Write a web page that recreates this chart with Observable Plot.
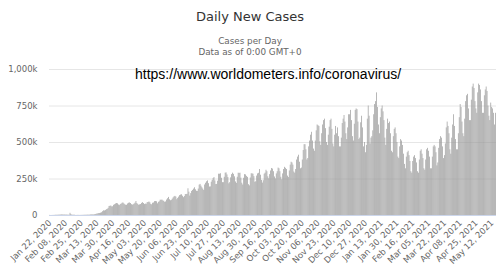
<!DOCTYPE html>
<html><head><meta charset="utf-8">
<script src="https://cdn.jsdelivr.net/npm/d3@7"></script>
<script src="https://cdn.jsdelivr.net/npm/@observablehq/plot@0.6"></script>
<style>
body{margin:0;background:#fff;}
#wrap{position:relative;width:500px;height:278px;font-family:"DejaVu Sans",sans-serif;overflow:hidden;}
#title{position:absolute;top:9px;left:0;width:500px;text-align:center;font-size:13px;line-height:16px;color:#333;}
#sub{position:absolute;top:36px;left:0;width:500px;text-align:center;font-size:8.8px;line-height:10.5px;color:#666;}
#chart{position:absolute;top:60px;left:0;}
#url{position:absolute;top:66px;left:135px;font-family:"Liberation Sans",Arial,sans-serif;font-size:14px;line-height:16px;color:#000;white-space:nowrap;}
</style></head>
<body>
<div id="wrap">
  <div id="title">Daily New Cases</div>
  <div id="sub">Cases per Day<br>Data as of 0:00 GMT+0</div>
  <div id="chart"></div>
  <div id="url">https://www.worldometers.info/coronavirus/</div>
</div>
<script>
const startDate = "2020-01-22";
// daily new cases, in thousands, one row per week (Wed..Tue)
const dailyCasesK = [
  0.6, 0.1, 0.3, 0.5, 0.7, 0.8, 1.8,
  1.5, 2.0, 2.1, 2.6, 2.8, 3.2, 3.9,
  3.7, 3.2, 3.4, 2.7, 3.0, 2.5, 2.0,
  2.0, 15.1, 6.4, 2.1, 2.1, 2.0, 1.9,
  0.5, 0.6, 1.0, 0.9, 0.6, 0.7, 0.9,
  1.0, 1.3, 1.3, 1.9, 1.7, 2.0, 2.5,
  2.4, 2.7, 3.9, 4.0, 3.9, 3.7, 4.8,
  7.0, 7.6, 10.7, 11.0, 13.5, 14.0, 16.0,
  19, 26, 32, 31, 34, 40, 42,
  49, 62, 63, 65, 59, 60, 70,
  74, 79, 82, 80, 72, 68, 75,
  78, 84, 86, 80, 74, 70, 70,
  79, 84, 86, 82, 74, 71, 74,
  79, 85, 96, 82, 76, 70, 73,
  75, 83, 88, 82, 75, 78, 77,
  88, 89, 93, 87, 76, 73, 84,
  86, 95, 96, 94, 80, 90, 94,
  105, 104, 106, 100, 97, 90, 93,
  106, 115, 124, 108, 101, 104, 112,
  121, 128, 131, 126, 108, 117, 126,
  136, 140, 142, 132, 122, 130, 143,
  144, 145, 183, 160, 133, 150, 165,
  172, 181, 190, 176, 166, 165, 181,
  208, 213, 201, 190, 181, 172, 209,
  221, 231, 237, 218, 195, 196, 228,
  240, 253, 260, 237, 212, 213, 235,
  283, 283, 286, 255, 225, 225, 262,
  290, 292, 278, 260, 217, 225, 258,
  280, 290, 282, 265, 230, 220, 262,
  290, 288, 290, 256, 221, 209, 255,
  280, 278, 268, 261, 211, 203, 257,
  286, 285, 283, 266, 228, 231, 270,
  285, 289, 315, 276, 240, 222, 238,
  283, 290, 310, 300, 265, 252, 280,
  305, 322, 318, 300, 264, 251, 285,
  300, 325, 320, 300, 262, 245, 285,
  315, 330, 323, 315, 270, 260, 305,
  345, 365, 360, 345, 298, 290, 315,
  380, 400, 413, 365, 320, 325, 380,
  445, 485, 485, 450, 380, 390, 470,
  510, 550, 570, 510, 455, 440, 510,
  580, 620, 615, 610, 505, 480, 560,
  620, 650, 660, 595, 500, 480, 550,
  605, 650, 660, 590, 490, 470, 550,
  610, 560, 600, 540, 470, 470, 530,
  630, 660, 685, 640, 560, 520, 600,
  690, 690, 720, 650, 540, 510, 625,
  720, 730, 725, 640, 520, 530, 635,
  680, 600, 470, 500, 430, 480, 660,
  750, 680, 490, 530, 540, 580, 690,
  760, 780, 840, 740, 620, 560, 670,
  730, 750, 710, 650, 530, 480, 590,
  660, 630, 640, 560, 440, 430, 540,
  590, 600, 560, 500, 400, 390, 470,
  520, 510, 480, 420, 350, 320, 400,
  430, 440, 410, 370, 300, 290, 370,
  400, 410, 390, 360, 300, 290, 380,
  440, 450, 420, 390, 320, 310, 380,
  450, 460, 440, 400, 320, 320, 400,
  470, 480, 470, 430, 340, 360, 460,
  520, 540, 530, 470, 390, 410, 490,
  600, 640, 610, 560, 450, 420, 530,
  620, 690, 610, 520, 450, 450, 560,
  670, 760, 740, 640, 560, 540, 660,
  780, 820, 830, 730, 650, 650, 790,
  880, 900, 870, 780, 730, 700, 840,
  900, 890, 860, 780, 700, 700, 820,
  860, 880, 850, 750, 680, 650, 770,
  740, 730, 700, 620, 700
];
const xTickDates = [
  "2020-01-22","2020-02-08","2020-02-25","2020-03-13","2020-03-30","2020-04-16",
  "2020-05-03","2020-05-20","2020-06-06","2020-06-23","2020-07-10","2020-07-27",
  "2020-08-13","2020-08-30","2020-09-16","2020-10-03","2020-10-20","2020-11-06",
  "2020-11-23","2020-12-10","2020-12-27","2021-01-13","2021-01-30","2021-02-16",
  "2021-03-05","2021-03-22","2021-04-08","2021-04-25","2021-05-12"
];
const yTicks = [0, 250000, 500000, 750000, 1000000];
const yTickLabels = ["0", "250k", "500k", "750k", "1,000k"];

const iso = d3.utcFormat("%Y-%m-%d");
const start = d3.utcParse("%Y-%m-%d")(startDate);
const days = dailyCasesK.map((_, i) => iso(d3.utcDay.offset(start, i)));
const data = dailyCasesK.map((v, i) => ({day: days[i], cases: v * 1000}));
const fmtTick = d => d3.utcFormat("%b %d, %Y")(d3.utcParse("%Y-%m-%d")(d));

const chart = Plot.plot({
  width: 500,
  height: 218,
  marginTop: 9,
  marginBottom: 63,
  marginLeft: 49,
  marginRight: 4,
  style: {fontFamily: "DejaVu Sans, sans-serif", fontSize: "8.5px", color: "#666", background: "#fff"},
  x: {type: "band", domain: days, padding: 0.25, label: null},
  y: {domain: [0, 1000000], label: null},
  marks: [
    Plot.ruleY(yTicks.slice(1), {stroke: "#e6e6e6"}),
    Plot.barY(data, {x: "day", y: "cases", fill: "#999"}),
    Plot.ruleY([0], {stroke: "#ccd6eb"}),
    Plot.axisY({ticks: yTicks, tickSize: 0, tickPadding: 12, tickFormat: d => yTickLabels[yTicks.indexOf(d)], label: null, fontSize: 8.5}),
    Plot.axisX({ticks: xTickDates, tickSize: 0, tickPadding: 6, tickRotate: -45, tickFormat: fmtTick, label: null, fontSize: 8.5})
  ]
});
document.getElementById("chart").appendChild(chart);
</script>
</body></html>
